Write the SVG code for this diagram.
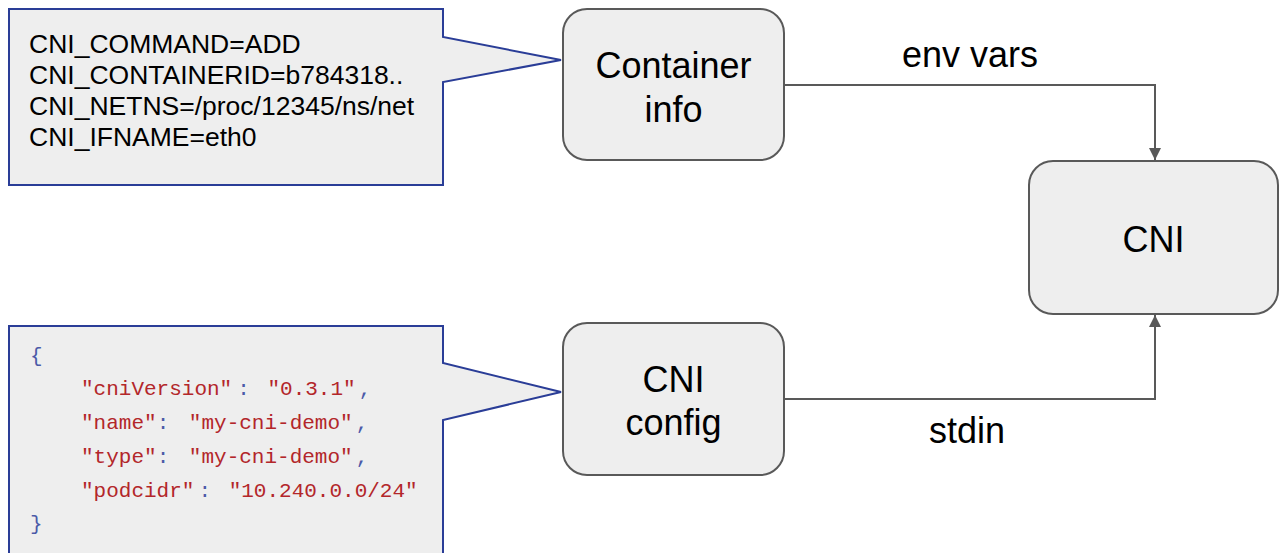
<svg xmlns="http://www.w3.org/2000/svg" width="1280" height="553" viewBox="0 0 1280 553">
  <style>
    .callout { fill: #eeeeee; stroke: #2a3d97; stroke-width: 2; stroke-linejoin: miter; }
    .node { fill: #eeeeee; stroke: #595959; stroke-width: 2; }
    .sans { font-family: "Liberation Sans", Arial, sans-serif; fill: #000000; }
    .env { font-size: 26.5px; }
    .title { font-size: 36px; text-anchor: middle; }
    .label { font-size: 36px; text-anchor: middle; }
    .mono { font-family: "Liberation Mono", "Courier New", monospace; font-size: 21px; white-space: pre; }
    .str { fill: #b3262a; }
    .pun { fill: #4b5aa8; }
    .edge { fill: none; stroke: #595959; stroke-width: 2; }
  </style>
  <defs>
    <marker id="arrow" viewBox="0 0 10 10" refX="10" refY="5" markerWidth="6" markerHeight="6" orient="auto" markerUnits="strokeWidth">
      <path d="M0,0 L10,5 L0,10 Z" fill="#595959"/>
    </marker>
  </defs>

  <rect width="1280" height="553" fill="#ffffff"/>

  <!-- environment variables callout -->
  <g id="env-callout">
    <path class="callout" d="M9,9 H443 V37 L561,60 L443,82 V185 H9 Z"/>
    <text class="sans env" x="29" y="53">CNI_COMMAND=ADD</text>
    <text class="sans env" x="29" y="84">CNI_CONTAINERID=b784318..</text>
    <text class="sans env" x="29" y="115">CNI_NETNS=/proc/12345/ns/net</text>
    <text class="sans env" x="29" y="146">CNI_IFNAME=eth0</text>
  </g>

  <!-- network configuration callout -->
  <g id="config-callout">
    <path class="callout" d="M9,326 H443 V363 L561,392 L443,420 V560 H9 Z"/>
    <text class="mono" x="30" y="362"><tspan class="pun">{</tspan></text>
    <text class="mono" x="81" y="395"><tspan class="str">"cniVersion"</tspan><tspan class="pun" dx="5">: </tspan><tspan class="str" dx="5">"0.3.1"</tspan><tspan class="pun" dx="3">,</tspan></text>
    <text class="mono" x="81" y="429"><tspan class="str">"name"</tspan><tspan class="pun">: </tspan><tspan class="str" dx="7">"my-cni-demo"</tspan><tspan class="pun" dx="3">,</tspan></text>
    <text class="mono" x="81" y="463"><tspan class="str">"type"</tspan><tspan class="pun">: </tspan><tspan class="str" dx="7">"my-cni-demo"</tspan><tspan class="pun" dx="3">,</tspan></text>
    <text class="mono" x="81" y="497"><tspan class="str">"podcidr"</tspan><tspan class="pun" dx="4">: </tspan><tspan class="str" dx="5">"10.240.0.0/24"</tspan></text>
    <text class="mono" x="30" y="530"><tspan class="pun">}</tspan></text>
  </g>

  <!-- connectors -->
  <g id="connectors">
    <path class="edge" d="M784,85 H1155 V160" marker-end="url(#arrow)"/>
    <path class="edge" d="M784,399 H1155 V315" marker-end="url(#arrow)"/>
    <text class="sans label" x="970" y="67">env vars</text>
    <text class="sans label" x="967" y="443">stdin</text>
  </g>

  <!-- nodes -->
  <g id="container-info">
    <rect class="node" x="563" y="9" width="221" height="151" rx="24"/>
    <text class="sans title" x="673.5" y="78">Container</text>
    <text class="sans title" x="673.5" y="122">info</text>
  </g>

  <g id="cni-config">
    <rect class="node" x="563" y="323" width="221" height="152" rx="24"/>
    <text class="sans title" x="673.5" y="392">CNI</text>
    <text class="sans title" x="673.5" y="435">config</text>
  </g>

  <g id="cni">
    <rect class="node" x="1029" y="161" width="249" height="153" rx="24"/>
    <text class="sans title" x="1153.5" y="252">CNI</text>
  </g>
</svg>
